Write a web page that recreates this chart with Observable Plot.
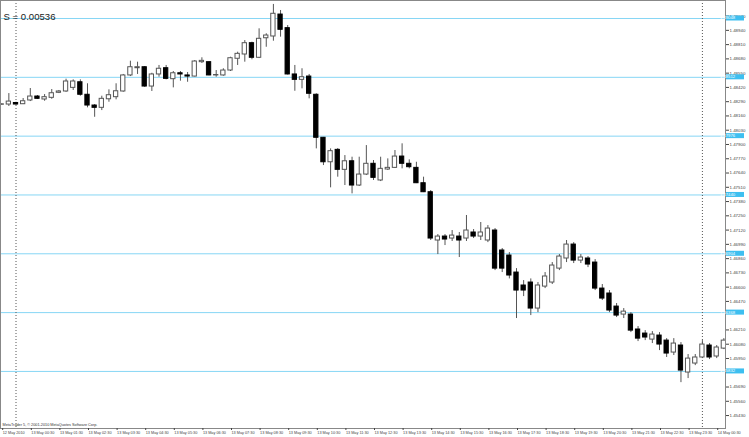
<!DOCTYPE html>
<html><head><meta charset="utf-8">
<script src="https://cdn.jsdelivr.net/npm/d3@7"></script>
<script src="https://cdn.jsdelivr.net/npm/@observablehq/plot@0.6"></script>
<style>body{margin:0;background:#fff}</style>
</head><body><div id="chart"></div>
<script>
const opens = [1.48262,1.48264,1.48278,1.48267,1.48301,1.48337,1.48310,1.48325,1.48371,1.48383,
1.48416,1.48467,1.48353,1.48255,1.48234,1.48312,1.48331,1.48383,1.48529,1.48595,
1.48604,1.48428,1.48538,1.48595,1.48495,1.48549,1.48529,1.48519,1.48650,1.48650,
1.48529,1.48529,1.48574,1.48681,1.48720,1.48823,1.48690,1.48868,1.48884,1.49084,
1.48960,1.48538,1.48489,1.48519,1.48353,1.47961,1.47738,1.47851,1.47669,1.47747,
1.47526,1.47626,1.47724,1.47572,1.47672,1.47687,1.47790,1.47724,1.47687,1.47547,
1.47465,1.47025,1.47061,1.47043,1.47061,1.47043,1.47098,1.47061,1.47025,1.47116,
1.46934,1.46888,1.46733,1.46615,1.46642,1.46405,1.46605,1.46642,1.46769,1.46861,
1.46988,1.46842,1.46861,1.46824,1.46587,1.46542,1.46423,1.46350,1.46350,1.46214,
1.46177,1.46122,1.46159,1.46113,1.46004,1.46068,1.45822,1.45904,1.45959,1.46068,
1.45968,1.46040];
const highs = [1.48270,1.48364,1.48285,1.48319,1.48410,1.48346,1.48355,1.48401,1.48392,1.48495,
1.48489,1.48489,1.48453,1.48264,1.48340,1.48398,1.48453,1.48538,1.48659,1.48650,
1.48610,1.48549,1.48620,1.48620,1.48565,1.48565,1.48556,1.48665,1.48690,1.48653,
1.48574,1.48590,1.48695,1.48741,1.48847,1.48832,1.48954,1.48909,1.49176,1.49121,
1.48984,1.48620,1.48590,1.48538,1.48362,1.47964,1.47860,1.47863,1.47799,1.47784,
1.47784,1.47890,1.47754,1.47784,1.47769,1.47845,1.47906,1.47760,1.47738,1.47602,
1.47480,1.47079,1.47079,1.47116,1.47098,1.47253,1.47125,1.47189,1.47161,1.47134,
1.46952,1.46915,1.46769,1.46660,1.46675,1.46642,1.46733,1.46824,1.46897,1.47025,
1.47006,1.46897,1.46879,1.46851,1.46624,1.46569,1.46451,1.46405,1.46368,1.46241,
1.46204,1.46195,1.46186,1.46131,1.46131,1.46095,1.45986,1.45986,1.46113,1.46086,
1.46068,1.46131];
const lows = [1.48258,1.48246,1.48258,1.48264,1.48291,1.48310,1.48294,1.48312,1.48364,1.48375,
1.48392,1.48340,1.48234,1.48148,1.48209,1.48285,1.48307,1.48376,1.48519,1.48538,
1.48420,1.48383,1.48513,1.48489,1.48416,1.48477,1.48467,1.48515,1.48638,1.48526,
1.48513,1.48522,1.48565,1.48620,1.48650,1.48672,1.48683,1.48786,1.48841,1.48878,
1.48533,1.48385,1.48407,1.48316,1.47860,1.47708,1.47505,1.47602,1.47526,1.47450,
1.47517,1.47617,1.47572,1.47562,1.47663,1.47681,1.47678,1.47678,1.47544,1.47462,
1.47025,1.46897,1.46979,1.47016,1.46870,1.47016,1.47043,1.47025,1.47006,1.46751,
1.46733,1.46675,1.46314,1.46514,1.46341,1.46368,1.46587,1.46624,1.46751,1.46824,
1.46815,1.46815,1.46778,1.46569,1.46478,1.46368,1.46323,1.46314,1.46186,1.46104,
1.46113,1.46086,1.46022,1.45959,1.45977,1.45730,1.45767,1.45885,1.45949,1.45940,
1.45949,1.46031];
const closes = [1.48266,1.48291,1.48264,1.48294,1.48337,1.48316,1.48331,1.48367,1.48383,1.48474,
1.48474,1.48353,1.48255,1.48234,1.48316,1.48349,1.48385,1.48529,1.48604,1.48604,
1.48428,1.48538,1.48590,1.48498,1.48549,1.48538,1.48519,1.48656,1.48662,1.48529,
1.48533,1.48574,1.48686,1.48726,1.48823,1.48690,1.48863,1.48893,1.49091,1.48945,
1.48538,1.48489,1.48513,1.48362,1.47961,1.47738,1.47839,1.47669,1.47747,1.47526,
1.47626,1.47724,1.47596,1.47678,1.47687,1.47790,1.47724,1.47693,1.47547,1.47465,
1.47043,1.47061,1.47034,1.47070,1.47025,1.47116,1.47061,1.47098,1.47134,1.46769,
1.46769,1.46706,1.46569,1.46569,1.46405,1.46615,1.46697,1.46797,1.46879,1.46988,
1.46842,1.46870,1.46806,1.46587,1.46496,1.46387,1.46341,1.46377,1.46204,1.46131,
1.46141,1.46168,1.46077,1.45995,1.46086,1.45840,1.45949,1.45959,1.46077,1.45959,
1.46050,1.46113];

const timeTickBars = [0,4,8,12,16,20,24,28,32,36,40,44,48,52,56,60,64,68,72,76,80,84,88,92,96,100];
const timeLabels = ["12 May 2010","13 May 00:30","13 May 01:30","13 May 02:30","13 May 03:30","13 May 04:30",
"13 May 05:30","13 May 06:30","13 May 07:30","13 May 08:30","13 May 09:30","13 May 10:30","13 May 11:30",
"13 May 12:30","13 May 13:30","13 May 14:30","13 May 15:30","13 May 16:30","13 May 17:30","13 May 18:30",
"13 May 19:30","13 May 20:30","13 May 21:30","13 May 22:30","13 May 23:30","14 May 00:30"];
const priceTicks = [1.45430,1.45560,1.45690,1.45950,1.46080,1.46210,1.46470,1.46600,
1.46730,1.46860,1.46990,1.47120,1.47250,1.47380,1.47510,1.47640,1.47770,1.47900,1.48030,1.48160,
1.48290,1.48420,1.48550,1.48680,1.48810,1.48940,1.49070];
const levelStep = 0.00536;
const levels = [1.45832,1.46368,1.46904,1.47440,1.47976,1.48512,1.49048];
const dottedBars = [2, 98];
const titleText = "S = " + levelStep.toFixed(5);
const copyright = "MetaTrader 5, © 2001-2010 MetaQuotes Software Corp.";

const candles = opens.map((o, i) => ({i, open: o, high: highs[i], low: lows[i], close: closes[i], up: closes[i] >= o}));

function levelLabels(index, scales, values, dims) {
  const g = d3.create("svg:g");
  const x0 = dims.width - dims.marginRight + 1;
  for (const v of levels) {
    const y = scales.y(v);
    g.append("rect").attr("x", x0).attr("y", y - 2.5).attr("width", 18).attr("height", 5).attr("fill", "#3dbff0");
    g.append("text").attr("x", x0 + 1.5).attr("y", y).attr("dy", "0.35em")
      .attr("font-size", 4.2).attr("fill", "#fff").text(v.toFixed(5));
  }
  return g.node();
}

const chart = Plot.plot({
  width: 749, height: 437,
  marginTop: 0, marginLeft: 0, marginRight: 24, marginBottom: 9,
  style: {fontFamily: "'Liberation Sans', Arial, sans-serif", background: "#fff", color: "#444"},
  x: {type: "linear", domain: [-0.168, 101.23]},
  y: {domain: [1.45312, 1.49212]},
  marks: [
    Plot.ruleY(levels, {stroke: "#86d6f5", strokeWidth: 1}),
    Plot.ruleX(dottedBars, {stroke: "#555", strokeDasharray: "1,2"}),
    Plot.ruleX(candles, {x: "i", y1: "low", y2: "high", stroke: "#555"}),
    Plot.rect(candles, {x1: d => d.i - 0.3, x2: d => d.i + 0.3, y1: "open", y2: "close",
      fill: d => d.up ? "#fff" : "#000", stroke: d => d.up ? "#555" : "#000"}),
    Plot.frame({stroke: "#888"}),
    Plot.axisY({anchor: "right", ticks: priceTicks, tickFormat: d3.format(".5f"), tickSize: 3, tickPadding: 1, fontSize: 4.4, label: null}),
    levelLabels,
    Plot.axisX({anchor: "bottom", ticks: timeTickBars, tickFormat: d => timeLabels[timeTickBars.indexOf(d)],
      tickSize: 2, tickPadding: 1, textAnchor: "start", dx: 1, fontSize: 3.8, label: null}),
    Plot.text([titleText], {frameAnchor: "top-left", dx: 3, dy: 16, textAnchor: "start", lineAnchor: "middle", fontSize: 9.6, fill: "#222"}),
    Plot.text([copyright], {frameAnchor: "bottom-left", dx: 2, dy: -4, textAnchor: "start", lineAnchor: "middle", fontSize: 3.8, fill: "#333"})
  ]
});
document.getElementById("chart").append(chart);
</script>
</body></html>
